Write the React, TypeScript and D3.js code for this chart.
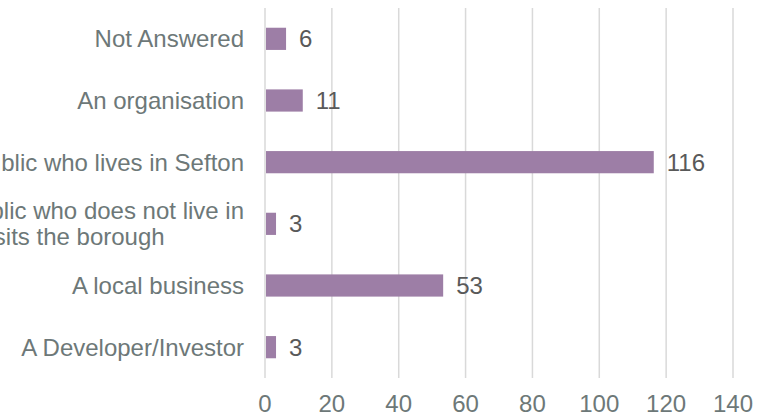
import React, { useRef, useEffect } from 'react';
import * as d3 from 'd3';

// categories top to bottom, as shown in the chart
const categories = [
  'Not Answered',
  'An organisation',
  'A member of the public who lives in Sefton',
  'A member of the public who does not live in\nSefton but visits the borough',
  'A local business',
  'A Developer/Investor',
];
const counts = [6, 11, 116, 3, 53, 3];
const xTicks = [0, 20, 40, 60, 80, 100, 120, 140];

const App: React.FC = () => {
  const svgRef = useRef<SVGSVGElement>(null);

  useEffect(() => {
    const svg = d3.select(svgRef.current);
    svg.selectAll('*').remove();

    const width = 769;
    const height = 417;
    const margin = { top: 8, right: 36, bottom: 39, left: 265 };
    const font = '"Liberation Sans", Arial, sans-serif';
    const fontSize = 24;

    const x = d3.scaleLinear()
      .domain([0, 140])
      .range([margin.left, width - margin.right]);

    const y = d3.scaleBand()
      .domain(categories)
      .range([margin.top, height - margin.bottom])
      .paddingInner(0.64)
      .paddingOuter(0.32);

    // gridlines
    svg.append('g')
      .selectAll('line')
      .data(xTicks)
      .join('line')
      .attr('x1', d => x(d))
      .attr('x2', d => x(d))
      .attr('y1', margin.top)
      .attr('y2', height - margin.bottom)
      .attr('stroke', '#d9d9d9')
      .attr('stroke-width', 1.5);

    // bars
    svg.append('g')
      .selectAll('rect')
      .data(categories)
      .join('rect')
      .attr('x', x(0) + 1)
      .attr('y', d => y(d)!)
      .attr('width', (d, i) => x(counts[i]) - x(0))
      .attr('height', y.bandwidth())
      .attr('fill', '#9d7ea6');

    // value labels
    svg.append('g')
      .selectAll('text')
      .data(categories)
      .join('text')
      .attr('x', (d, i) => x(counts[i]) + 14)
      .attr('y', d => y(d)! + y.bandwidth() / 2)
      .attr('dy', '0.36em')
      .attr('font-family', font)
      .attr('font-size', fontSize)
      .attr('fill', '#595959')
      .text((d, i) => counts[i]);

    // category labels: lines centred on each other, widest line ends at the right edge
    const labelRight = margin.left - 21;
    const labels = svg.append('g')
      .selectAll('text')
      .data(categories)
      .join('text')
      .attr('text-anchor', 'middle')
      .attr('font-family', font)
      .attr('font-size', fontSize)
      .attr('fill', '#6d7878');

    labels.each(function (d) {
      const lines = d.split('\n');
      const lh = 26;
      const t = d3.select(this);
      const spans = t.selectAll('tspan')
        .data(lines)
        .join('tspan')
        .attr('x', 0)
        .attr('y', (l, i) => (i - (lines.length - 1) / 2) * lh)
        .attr('dy', '0.36em')
        .text(l => l);
      let maxW = 0;
      spans.each(function () {
        maxW = Math.max(maxW, (this as SVGTSpanElement).getComputedTextLength());
      });
      t.attr('transform', `translate(${labelRight - maxW / 2},${y(d)! + y.bandwidth() / 2})`);
    });

    // x axis tick labels
    svg.append('g')
      .selectAll('text')
      .data(xTicks)
      .join('text')
      .attr('x', d => x(d))
      .attr('y', height - 5)
      .attr('text-anchor', 'middle')
      .attr('font-family', font)
      .attr('font-size', fontSize)
      .attr('fill', '#6d7878')
      .text(d => d);
  }, []);

  return (
    <svg
      ref={svgRef}
      width="769"
      height="417"
      style={{ position: 'absolute', left: 0, top: 0, background: '#fff' }}
    />
  );
};

export default App;
